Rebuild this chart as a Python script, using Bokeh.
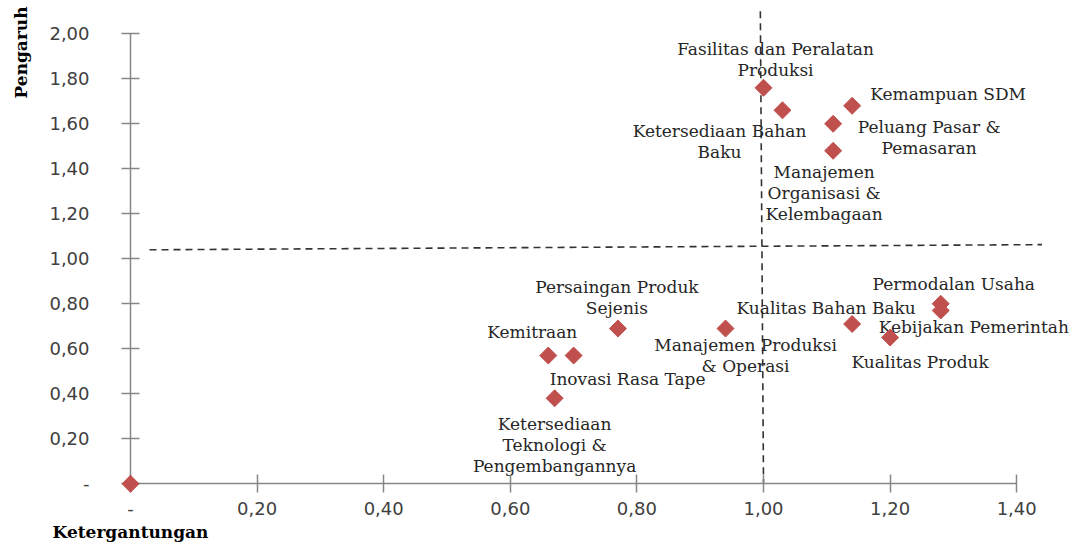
from bokeh.plotting import figure
from bokeh.models import ColumnDataSource, FixedTicker, CustomJSTickFormatter, Label
from bokeh.core.properties import value
from bokeh.embed import file_html
from bokeh.resources import INLINE
import math

# ---- data ----
names = [
    "Fasilitas dan Peralatan\nProduksi",
    "Ketersediaan Bahan\nBaku",
    "Kemampuan SDM",
    "Peluang Pasar &\nPemasaran",
    "Manajemen\nOrganisasi &\nKelembagaan",
    "Persaingan Produk\nSejenis",
    "Kemitraan",
    "Inovasi Rasa Tape",
    "Ketersediaan\nTeknologi &\nPengembangannya",
    "Manajemen Produksi\n& Operasi",
    "Kualitas Bahan Baku",
    "Kualitas Produk",
    "Permodalan Usaha",
    "Kebijakan Pemerintah",
    "",
]
ketergantungan = [1.00, 1.03, 1.14, 1.11, 1.11, 0.77, 0.66, 0.70, 0.67, 0.94, 1.14, 1.20, 1.28, 1.28, 0.00]
pengaruh = [1.76, 1.66, 1.68, 1.60, 1.48, 0.69, 0.57, 0.57, 0.38, 0.69, 0.71, 0.65, 0.80, 0.77, 0.00]

x_ticks = [0.0, 0.2, 0.4, 0.6, 0.8, 1.0, 1.2, 1.4]
y_ticks = [0.0, 0.2, 0.4, 0.6, 0.8, 1.0, 1.2, 1.4, 1.6, 1.8, 2.0]

# quadrant divider lines
h_div_x = [0.03, 1.44]
h_div_y = [1.04, 1.063]
v_div_x = [0.995, 1.0]
v_div_y = [2.1, 0.0]

# label offsets in pixels (layout only)
label_dx = [12, -63, 96, 96, -9, -1, -16, 54, 0, 20, -26, 30, 13, 33, 0]
label_dy = [-28, 31, -12, 14, 42, -31, -24, 23, 47, 27, -16, 24, -20, 16, 0]

src = ColumnDataSource(dict(x=ketergantungan, y=pengaruh, name=names, dx=label_dx, dy=label_dy))

p = figure(width=1079, height=546, output_backend="svg", toolbar_location=None,
           x_range=(-0.2054, 1.4992), y_range=(-0.2787, 2.148),
           min_border_left=0, min_border_right=0, min_border_top=0, min_border_bottom=0)
p.title.visible = False
p.outline_line_color = None
p.grid.visible = False
p.background_fill_color = "white"
p.border_fill_color = "white"

fmt = CustomJSTickFormatter(code="if (Math.abs(tick) < 1e-9) { return '-'; } return tick.toFixed(2).replace('.', ',');")

for ax, ticks, bnd in ((p.xaxis[0], x_ticks, (0, 1.4)), (p.yaxis[0], y_ticks, (0, 2.0))):
    ax.ticker = FixedTicker(ticks=ticks)
    ax.formatter = fmt
    ax.fixed_location = 0
    ax.bounds = bnd
    ax.axis_line_color = "#868686"
    ax.axis_line_width = 1.5
    ax.major_tick_line_color = "#868686"
    ax.major_tick_line_width = 1.5
    ax.major_tick_in = 9
    ax.major_tick_out = 9
    ax.minor_tick_line_color = None
    ax.major_label_text_font = "DejaVu Sans"
    ax.major_label_text_font_size = "18px"
    ax.major_label_text_color = "#404040"

p.xaxis.major_label_standoff = 9
p.yaxis.major_label_standoff = 32

p.line(h_div_x, h_div_y, line_color="#333333", line_width=1.6, line_dash="7 5")
p.line(v_div_x, v_div_y, line_color="#333333", line_width=1.6, line_dash="7 5")

r = p.scatter("x", "y", source=src, marker="square", angle=math.pi / 4, size=12,
              fill_color="#C0504D", line_color="#C0504D")
r.level = "annotation"

p.text("x", "y", text="name", source=src, x_offset="dx", y_offset="dy",
       text_align="center", text_baseline="middle", text_font=value("DejaVu Serif"),
       text_font_size="17px", text_color="#262626", text_line_height=1.05)

p.add_layout(Label(x=-0.1738, y=1.917, text="Pengaruh", angle=math.pi / 2,
                   text_align="center", text_baseline="middle",
                   text_font="DejaVu Serif", text_font_style="bold", text_font_size="17px",
                   text_color="#000000"))
p.add_layout(Label(x=-0.1232, y=-0.215, text="Ketergantungan",
                   text_align="left", text_baseline="middle",
                   text_font="DejaVu Serif", text_font_style="bold", text_font_size="17px",
                   text_color="#000000"))

open("out.html", "w").write(file_html(p, INLINE))
